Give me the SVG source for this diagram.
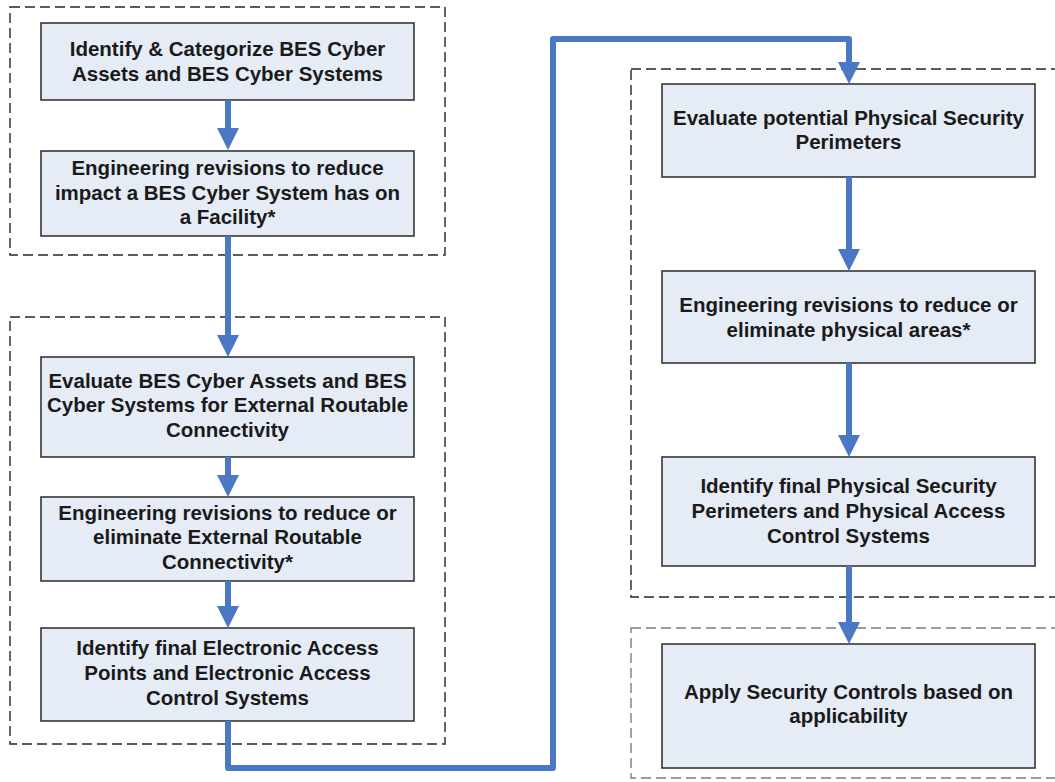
<svg xmlns="http://www.w3.org/2000/svg" width="1055" height="782" viewBox="0 0 1055 782">
<defs>
<style>
.grp{fill:none;stroke:#262626;stroke-width:1.4;stroke-dasharray:10,5}
.box{fill:#e5ecf6;stroke:#363636;stroke-width:1.6}
.t{font-family:"Liberation Sans",Arial,sans-serif;font-weight:bold;font-size:20.5px;fill:#1a1a1a;text-anchor:middle}
.c{fill:none;stroke:#4a78c4;stroke-width:6;stroke-linejoin:round;marker-end:url(#ah)}
</style>
<marker id="ah" markerUnits="userSpaceOnUse" markerWidth="22" markerHeight="22" refX="0" refY="11" orient="auto" viewBox="0 0 22 22">
<path d="M0,0 L22,11 L0,22 z" fill="#4a78c4"/>
</marker>
</defs>
<rect width="1055" height="782" fill="#ffffff"/>
<g id="groups">
<rect class="grp" x="10" y="7" width="435" height="248"/>
<rect class="grp" x="10" y="317" width="435" height="427"/>
<rect class="grp" x="631" y="69" width="460" height="528"/>
<rect class="grp" x="631" y="628" width="460" height="150" stroke-opacity="0.6"/>
</g>
<g id="node1"><rect class="box" x="41" y="23" width="373" height="77"/>
<text class="t" x="227.5" y="56">Identify &amp; Categorize BES Cyber</text>
<text class="t" x="227.5" y="80.5">Assets and BES Cyber Systems</text></g>
<g id="node2"><rect class="box" x="41" y="151" width="373" height="85"/>
<text class="t" x="227.5" y="175">Engineering revisions to reduce</text>
<text class="t" x="227.5" y="199.5">impact a BES Cyber System has on</text>
<text class="t" x="227.5" y="224">a Facility*</text></g>
<g id="node3"><rect class="box" x="41" y="357" width="373" height="100"/>
<text class="t" x="227.5" y="387.5">Evaluate BES Cyber Assets and BES</text>
<text class="t" x="227.5" y="412">Cyber Systems for External Routable</text>
<text class="t" x="227.5" y="437">Connectivity</text></g>
<g id="node4"><rect class="box" x="41" y="497" width="373" height="84"/>
<text class="t" x="227.5" y="519.5">Engineering revisions to reduce or</text>
<text class="t" x="227.5" y="544">eliminate External Routable</text>
<text class="t" x="227.5" y="569">Connectivity*</text></g>
<g id="node5"><rect class="box" x="41" y="628" width="373" height="93"/>
<text class="t" x="227.5" y="655">Identify final Electronic Access</text>
<text class="t" x="227.5" y="680">Points and Electronic Access</text>
<text class="t" x="227.5" y="705">Control Systems</text></g>
<g id="node6"><rect class="box" x="662" y="84" width="373" height="93"/>
<text class="t" x="848.5" y="125">Evaluate potential Physical Security</text>
<text class="t" x="848.5" y="149">Perimeters</text></g>
<g id="node7"><rect class="box" x="662" y="271" width="373" height="92"/>
<text class="t" x="848.5" y="311.5">Engineering revisions to reduce or</text>
<text class="t" x="848.5" y="336.5">eliminate physical areas*</text></g>
<g id="node8"><rect class="box" x="662" y="457" width="373" height="109"/>
<text class="t" x="848.5" y="493">Identify final Physical Security</text>
<text class="t" x="848.5" y="518">Perimeters and Physical Access</text>
<text class="t" x="848.5" y="542.5">Control Systems</text></g>
<g id="node9"><rect class="box" x="662" y="644" width="373" height="124"/>
<text class="t" x="848.5" y="699">Apply Security Controls based on</text>
<text class="t" x="848.5" y="723">applicability</text></g>
<g id="connectors">
<path class="c" d="M228,100 V128"/>
<path class="c" d="M228,236 V335"/>
<path class="c" d="M228,457 V475"/>
<path class="c" d="M228,581 V606"/>
<path class="c" d="M228,721 V768 H553 V39 H849 V62"/>
<path class="c" d="M849,177 V249"/>
<path class="c" d="M849,363 V435"/>
<path class="c" d="M849,566 V622"/>
</g>
</svg>
